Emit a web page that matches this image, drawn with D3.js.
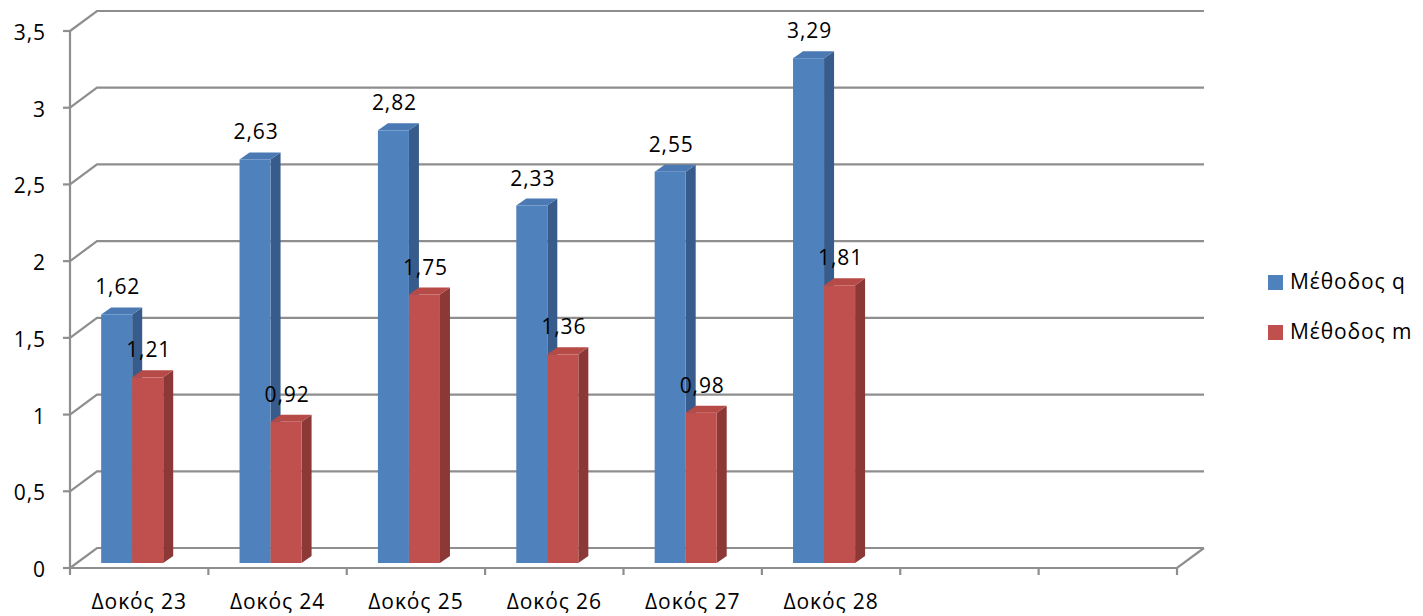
<!DOCTYPE html>
<html>
<head>
<meta charset="utf-8">
<script src="https://cdn.jsdelivr.net/npm/d3@7"></script>
<style>
  html, body { margin: 0; padding: 0; background: #fff; }
  svg { display: block; }
  text { font-family: "Open Sans", "Noto Sans", sans-serif; fill: #000; font-size: 21px; letter-spacing: 0.9px; }
</style>
</head>
<body>
<svg id="chart" width="1423" height="616"></svg>
<script>
// Beam categories (two trailing empty slots on the axis)
const categories = ["Δοκός 23", "Δοκός 24", "Δοκός 25", "Δοκός 26", "Δοκός 27", "Δοκός 28", "", ""];
const seriesNames = ["Μέθοδος q", "Μέθοδος m"];
const valuesQ = [1.62, 2.63, 2.82, 2.33, 2.55, 3.29];
const valuesM = [1.21, 0.92, 1.75, 1.36, 0.98, 1.81];
const yTicks = [0, 0.5, 1, 1.5, 2, 2.5, 3, 3.5];

const fmt = v => String(v).replace(".", ",");

const svg = d3.select("#chart");

// Front plane of the plot box and the oblique depth of the 3D walls
const plotLeft = 70, plotRight = 1177, plotBottom = 568, plotTop = 31;
const depthX = 27, depthY = -20;
// Bars sit slightly inside the floor and have their own thickness
const barShiftX = -7, barShiftY = -5;
const barDepthX = 10, barDepthY = -7;

const x = d3.scaleBand().domain(d3.range(categories.length)).range([plotLeft, plotRight]);
const y = d3.scaleLinear().domain([0, 3.5]).range([plotBottom, plotTop]);
const inner = d3.scaleBand().domain([0, 1]).range([0, x.bandwidth()]).paddingOuter(1.23);

const gridColor = "#8e8e8e";
const grid = svg.append("g").attr("stroke", gridColor).attr("stroke-width", 2.2).attr("fill", "none");

// Back wall gridlines plus the side-wall diagonals
yTicks.forEach(t => {
  const yy = y(t);
  grid.append("path")
    .attr("d", `M${plotLeft},${yy} L${plotLeft + depthX},${yy + depthY} L${plotRight + depthX},${yy + depthY}`);
});
// Floor: front edge and right diagonal
grid.append("path")
  .attr("d", `M${plotLeft},${plotBottom} L${plotRight},${plotBottom} L${plotRight + depthX},${plotBottom + depthY}`);
// Value axis line
grid.append("line").attr("x1", plotLeft).attr("x2", plotLeft).attr("y1", y(3.5)).attr("y2", plotBottom);

// Value axis ticks and labels
yTicks.forEach(t => {
  grid.append("line").attr("x1", plotLeft - 7).attr("x2", plotLeft).attr("y1", y(t)).attr("y2", y(t));
  svg.append("text")
    .attr("x", 46).attr("y", y(t) + 9)
    .attr("text-anchor", "end")
    .text(fmt(t));
});

// Category ticks and labels
d3.range(categories.length + 1).forEach(i => {
  const xx = i < categories.length ? x(i) : plotRight;
  grid.append("line").attr("x1", xx).attr("x2", xx).attr("y1", plotBottom).attr("y2", plotBottom + 7);
});
categories.forEach((c, i) => {
  svg.append("text")
    .attr("x", x(i) + x.bandwidth() / 2).attr("y", 609)
    .attr("text-anchor", "middle")
    .text(c);
});

// 3D columns
const palettes = [
  { front: "#4f81bd", side: "#375c8b", top: "#4a79b3" },
  { front: "#c0504d", side: "#8b3836", top: "#b64a47" }
];
const series = [valuesQ, valuesM];
const bars = svg.append("g");
const labels = svg.append("g");

valuesQ.forEach((_, i) => {
  series.forEach((vals, s) => {
    const v = vals[i];
    const p = palettes[s];
    const x0 = x(i) + inner(s) + barShiftX;
    const x1 = x0 + inner.bandwidth();
    const yb = y(0) + barShiftY;
    const yt = y(v) + barShiftY;
    const g = bars.append("g");
    g.append("path").attr("fill", p.side)
      .attr("d", `M${x1},${yb} L${x1 + barDepthX},${yb + barDepthY} L${x1 + barDepthX},${yt + barDepthY} L${x1},${yt} Z`);
    g.append("path").attr("fill", p.top)
      .attr("d", `M${x0},${yt} L${x0 + barDepthX},${yt + barDepthY} L${x1 + barDepthX},${yt + barDepthY} L${x1},${yt} Z`);
    g.append("rect").attr("fill", p.front)
      .attr("x", x0).attr("y", yt).attr("width", x1 - x0).attr("height", yb - yt);
    labels.append("text")
      .attr("x", (x0 + x1) / 2 + 1).attr("y", yt + barDepthY - 13)
      .attr("text-anchor", "middle")
      .text(fmt(v));
  });
});

// Legend
const legend = svg.append("g");
seriesNames.forEach((n, s) => {
  const base = 289 + s * 50;
  legend.append("rect").attr("x", 1268).attr("y", base - 14).attr("width", 15).attr("height", 15)
    .attr("fill", palettes[s].front);
  legend.append("text").attr("x", 1290).attr("y", base).text(n);
});
</script>
</body>
</html>
